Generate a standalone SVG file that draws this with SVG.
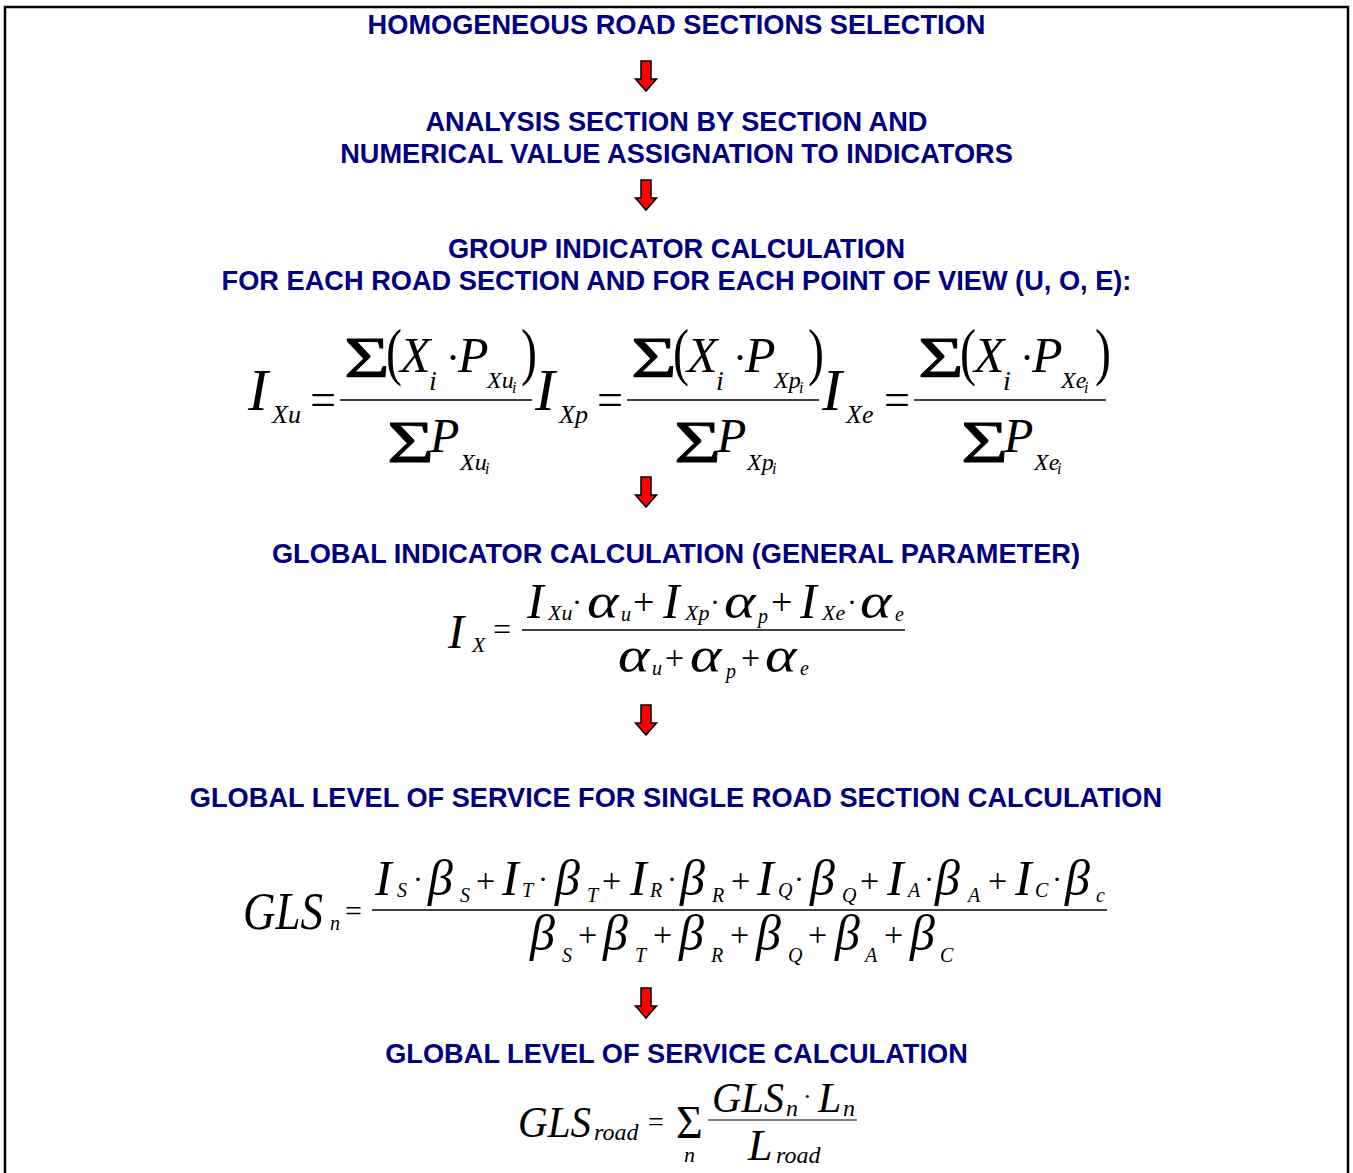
<svg xmlns="http://www.w3.org/2000/svg" width="1353" height="1173" viewBox="0 0 1353 1173">
<style>
.h{font-family:"Liberation Sans",Arial,sans-serif;font-weight:bold;font-size:27.2px;fill:#000080;text-anchor:middle}
.m{font-family:"Liberation Serif","Times New Roman",serif;font-style:italic;fill:#000}
.u{font-family:"Liberation Serif","Times New Roman",serif;font-style:normal;fill:#000}
.sg{stroke:#000;stroke-width:0.8}
.bar{stroke:#000;stroke-width:1.5}
.arrow{fill:#ff0000;stroke:#000;stroke-width:1.5;stroke-linejoin:miter}
</style>
<defs>
<path id="arr" d="M-5,0 H5 V18 H10.5 L0,30 L-10.5,18 H-5 Z"/>
</defs>
<rect width="1353" height="1173" fill="#fff"/>
<path d="M5,1173 V7 H1348 V1173" fill="none" stroke="#000" stroke-width="2.5"/>

<g id="connectors">
<use href="#arr" class="arrow" x="646" y="61"/>
<use href="#arr" class="arrow" x="646" y="180"/>
<use href="#arr" class="arrow" x="646" y="477"/>
<use href="#arr" class="arrow" x="646" y="705"/>
<use href="#arr" class="arrow" x="646" y="988"/>
</g>

<g id="step1"><text class="h" x="676.5" y="34">HOMOGENEOUS ROAD SECTIONS SELECTION</text></g>
<g id="step2">
<text class="h" x="676.5" y="131">ANALYSIS SECTION BY SECTION AND</text>
<text class="h" x="676.5" y="163">NUMERICAL VALUE ASSIGNATION TO INDICATORS</text>
</g>
<g id="step3">
<text class="h" x="676.5" y="258">GROUP INDICATOR CALCULATION</text>
<text class="h" x="676.5" y="290">FOR EACH ROAD SECTION AND FOR EACH POINT OF VIEW (U, O, E):</text>
</g>

<g id="formula-group">
<g id="f-u">
<text class="m" x="248" y="410" font-size="60">I</text>
<text class="m" x="272" y="423" font-size="26">Xu</text>
<text class="u" x="310" y="415" font-size="46">=</text>
<line class="bar" x1="340" y1="400" x2="532" y2="400"/>
<text class="u sg" font-size="56" transform="translate(344,377) scale(1.4,1)">Σ</text>
<text class="u" font-size="64" transform="translate(386,373) scale(0.75,1)">(</text>
<text class="m" x="400" y="372" font-size="50">X</text>
<text class="m" x="429" y="390" font-size="28">i</text>
<text class="u" x="446" y="372" font-size="42">·</text>
<text class="m" x="458" y="372" font-size="50">P</text>
<text class="m" x="487" y="388" font-size="24">Xu</text>
<text class="m" x="512" y="393" font-size="16">i</text>
<text class="u" font-size="64" transform="translate(521,373) scale(0.75,1)">)</text>
<text class="u sg" font-size="60" transform="translate(387,462) scale(1.35,1)">Σ</text>
<text class="m" x="430" y="452" font-size="48">P</text>
<text class="m" x="460" y="470" font-size="24">Xu</text>
<text class="m" x="485" y="474" font-size="16">i</text>
</g>
<g id="f-p" transform="translate(287,0)">
<text class="m" x="248" y="410" font-size="60">I</text>
<text class="m" x="272" y="423" font-size="26">Xp</text>
<text class="u" x="310" y="415" font-size="46">=</text>
<line class="bar" x1="340" y1="400" x2="532" y2="400"/>
<text class="u sg" font-size="56" transform="translate(344,377) scale(1.4,1)">Σ</text>
<text class="u" font-size="64" transform="translate(386,373) scale(0.75,1)">(</text>
<text class="m" x="400" y="372" font-size="50">X</text>
<text class="m" x="429" y="390" font-size="28">i</text>
<text class="u" x="446" y="372" font-size="42">·</text>
<text class="m" x="458" y="372" font-size="50">P</text>
<text class="m" x="487" y="388" font-size="24">Xp</text>
<text class="m" x="512" y="393" font-size="16">i</text>
<text class="u" font-size="64" transform="translate(521,373) scale(0.75,1)">)</text>
<text class="u sg" font-size="60" transform="translate(387,462) scale(1.35,1)">Σ</text>
<text class="m" x="430" y="452" font-size="48">P</text>
<text class="m" x="460" y="470" font-size="24">Xp</text>
<text class="m" x="485" y="474" font-size="16">i</text>
</g>
<g id="f-e" transform="translate(574,0)">
<text class="m" x="248" y="410" font-size="60">I</text>
<text class="m" x="272" y="423" font-size="26">Xe</text>
<text class="u" x="310" y="415" font-size="46">=</text>
<line class="bar" x1="340" y1="400" x2="532" y2="400"/>
<text class="u sg" font-size="56" transform="translate(344,377) scale(1.4,1)">Σ</text>
<text class="u" font-size="64" transform="translate(386,373) scale(0.75,1)">(</text>
<text class="m" x="400" y="372" font-size="50">X</text>
<text class="m" x="429" y="390" font-size="28">i</text>
<text class="u" x="446" y="372" font-size="42">·</text>
<text class="m" x="458" y="372" font-size="50">P</text>
<text class="m" x="487" y="388" font-size="24">Xe</text>
<text class="m" x="510" y="393" font-size="16">i</text>
<text class="u" font-size="64" transform="translate(521,373) scale(0.75,1)">)</text>
<text class="u sg" font-size="60" transform="translate(387,462) scale(1.35,1)">Σ</text>
<text class="m" x="430" y="452" font-size="48">P</text>
<text class="m" x="460" y="470" font-size="24">Xe</text>
<text class="m" x="483" y="474" font-size="16">i</text>
</g>
</g>

<g id="step4">
<text class="h" x="676" y="563">GLOBAL INDICATOR CALCULATION (GENERAL PARAMETER)</text>
<g id="formula-global">
<text class="m" x="448" y="648" font-size="48">I</text>
<text class="m" x="472" y="652" font-size="22">X</text>
<text class="u" x="493" y="640" font-size="32">=</text>
<line class="bar" x1="522" y1="630" x2="905" y2="630"/>
<text class="m" x="527" y="618" font-size="50">I</text>
<text class="m" x="548" y="620" font-size="22">Xu</text>
<text class="u" x="572" y="612" font-size="30">·</text>
<text class="m" font-size="50" transform="translate(587,618) scale(1.2,1)">α</text>
<text class="m" x="621" y="621" font-size="20">u</text>
<text class="u" x="633" y="615" font-size="38">+</text>
<text class="m" x="663" y="618" font-size="50">I</text>
<text class="m" x="685" y="620" font-size="22">Xp</text>
<text class="u" x="710" y="612" font-size="30">·</text>
<text class="m" font-size="50" transform="translate(724,618) scale(1.2,1)">α</text>
<text class="m" x="758" y="623" font-size="20">p</text>
<text class="u" x="771" y="615" font-size="38">+</text>
<text class="m" x="800" y="618" font-size="50">I</text>
<text class="m" x="822" y="620" font-size="22">Xe</text>
<text class="u" x="847" y="612" font-size="30">·</text>
<text class="m" font-size="50" transform="translate(860,618) scale(1.2,1)">α</text>
<text class="m" x="895" y="621" font-size="20">e</text>
<text class="m" font-size="50" transform="translate(618,672) scale(1.2,1)">α</text>
<text class="m" x="652" y="675" font-size="20">u</text>
<text class="u" x="665" y="669" font-size="34">+</text>
<text class="m" font-size="50" transform="translate(690,672) scale(1.2,1)">α</text>
<text class="m" x="726" y="678" font-size="20">p</text>
<text class="u" x="741" y="669" font-size="34">+</text>
<text class="m" font-size="50" transform="translate(765,672) scale(1.2,1)">α</text>
<text class="m" x="800" y="675" font-size="20">e</text>
</g>
</g>

<g id="step5">
<text class="h" x="676" y="807">GLOBAL LEVEL OF SERVICE FOR SINGLE ROAD SECTION CALCULATION</text>
<g id="formula-gls">
<text class="m" x="243" y="929" font-size="52" textLength="80" lengthAdjust="spacingAndGlyphs">GLS</text>
<text class="m" x="330" y="930" font-size="20">n</text>
<text class="u" x="345" y="921" font-size="30">=</text>
<line class="bar" x1="372" y1="910" x2="1107" y2="910"/>
<g font-size="50">
<text class="m" x="375" y="895">I</text><text class="m" x="428" y="895">β</text>
<text class="m" x="502" y="895">I</text><text class="m" x="555" y="895">β</text>
<text class="m" x="630" y="895">I</text><text class="m" x="680" y="895">β</text>
<text class="m" x="757" y="895">I</text><text class="m" x="810" y="895">β</text>
<text class="m" x="887" y="895">I</text><text class="m" x="935" y="895">β</text>
<text class="m" x="1015" y="895">I</text><text class="m" x="1065" y="895">β</text>
<text class="m" x="530" y="950">β</text><text class="m" x="603" y="950">β</text>
<text class="m" x="679" y="950">β</text><text class="m" x="756" y="950">β</text>
<text class="m" x="835" y="950">β</text><text class="m" x="910" y="950">β</text>
</g>
<g font-size="20">
<text class="m" x="397" y="897">S</text><text class="m" x="460" y="902">S</text>
<text class="m" x="522" y="897">T</text><text class="m" x="587" y="902">T</text>
<text class="m" x="650" y="897">R</text><text class="m" x="712" y="902">R</text>
<text class="m" x="778" y="897">Q</text><text class="m" x="842" y="902">Q</text>
<text class="m" x="908" y="897">A</text><text class="m" x="968" y="902">A</text>
<text class="m" x="1035" y="897">C</text><text class="m" x="1096" y="902">c</text>
<text class="m" x="562" y="962">S</text><text class="m" x="635" y="962">T</text>
<text class="m" x="711" y="962">R</text><text class="m" x="788" y="962">Q</text>
<text class="m" x="865" y="962">A</text><text class="m" x="940" y="962">C</text>
</g>
<g font-size="30">
<text class="u" x="413" y="889">·</text><text class="u" x="538" y="889">·</text>
<text class="u" x="667" y="889">·</text><text class="u" x="794" y="889">·</text>
<text class="u" x="924" y="889">·</text><text class="u" x="1052" y="889">·</text>
</g>
<g font-size="34">
<text class="u" x="476" y="892">+</text><text class="u" x="602" y="892">+</text>
<text class="u" x="731" y="892">+</text><text class="u" x="860" y="892">+</text>
<text class="u" x="988" y="892">+</text>
<text class="u" x="578" y="946">+</text><text class="u" x="653" y="946">+</text>
<text class="u" x="730" y="946">+</text><text class="u" x="808" y="946">+</text>
<text class="u" x="884" y="946">+</text>
</g>
</g>
</g>

<g id="step6">
<text class="h" x="676.5" y="1063">GLOBAL LEVEL OF SERVICE CALCULATION</text>
<g id="formula-road">
<text class="m" x="518" y="1137" font-size="44" textLength="73" lengthAdjust="spacingAndGlyphs">GLS</text>
<text class="m" x="594" y="1140" font-size="24">road</text>
<text class="u" x="648" y="1131" font-size="28">=</text>
<text class="u" x="676" y="1138" font-size="46">Σ</text>
<text class="m" x="684" y="1162" font-size="22">n</text>
<line x1="708" y1="1120" x2="857" y2="1120" stroke="#000" stroke-width="1.2"/>
<text class="m" x="712" y="1112" font-size="42" textLength="72" lengthAdjust="spacingAndGlyphs">GLS</text>
<text class="m" x="786" y="1116" font-size="24">n</text>
<text class="u" x="803" y="1105" font-size="26">·</text>
<text class="m" x="818" y="1112" font-size="42">L</text>
<text class="m" x="843" y="1116" font-size="24">n</text>
<text class="m" x="748" y="1160" font-size="44">L</text>
<text class="m" x="776" y="1163" font-size="24">road</text>
</g>
</g>
</svg>
